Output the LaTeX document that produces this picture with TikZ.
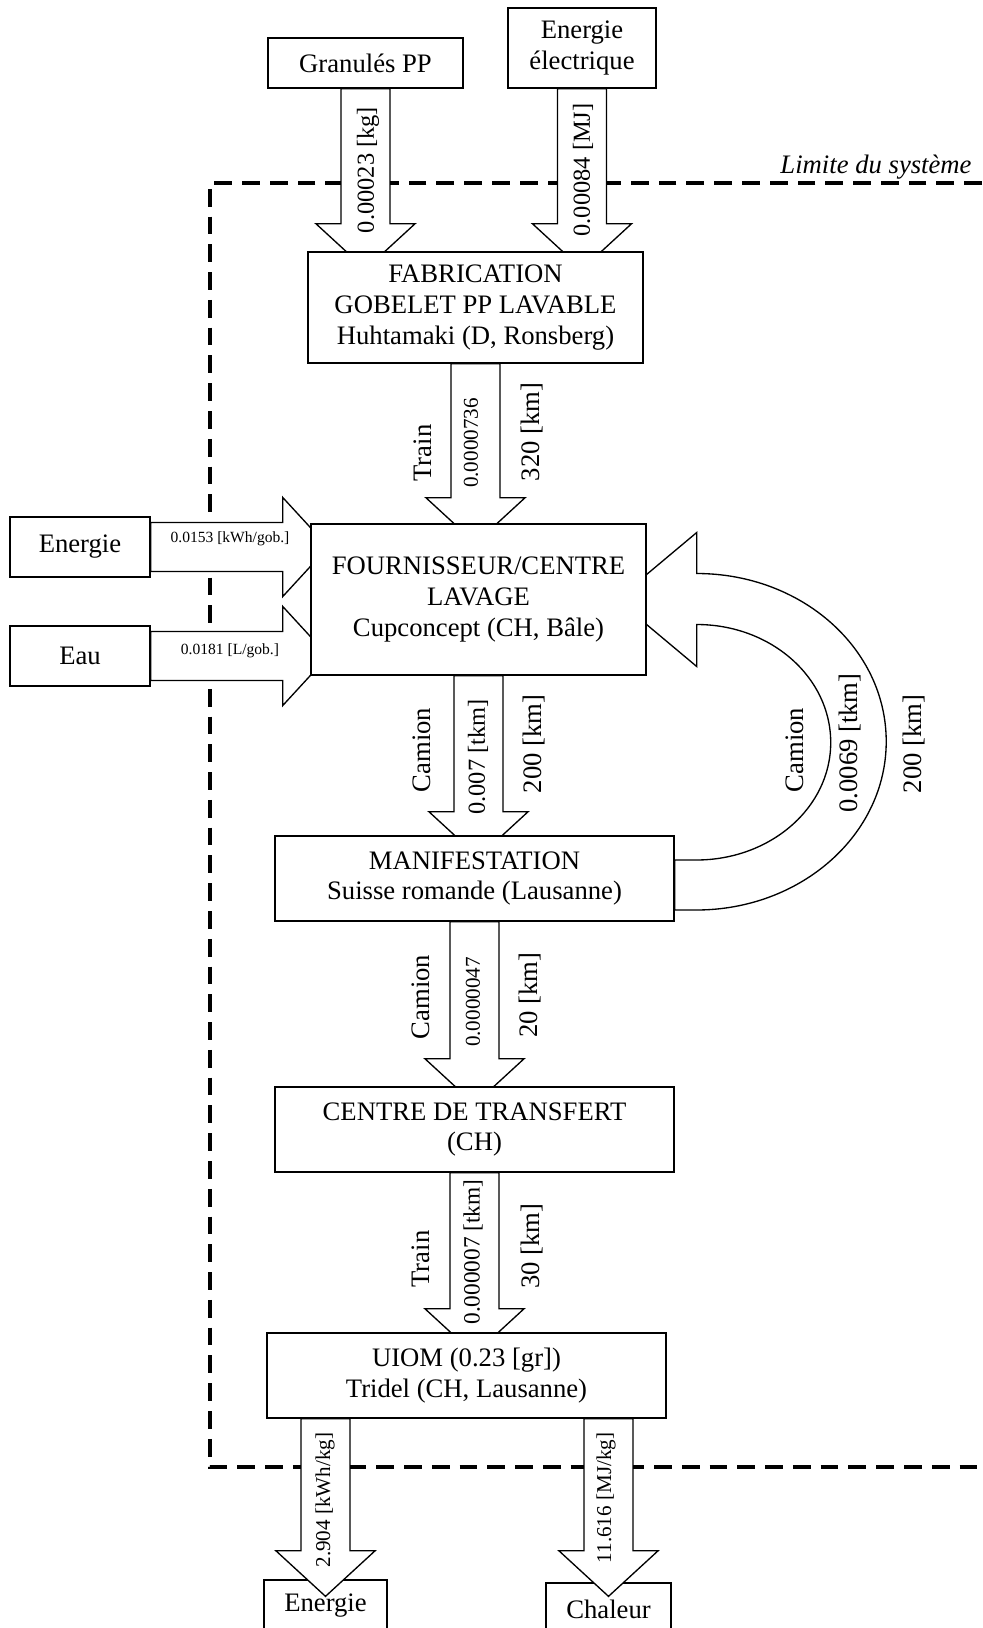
\documentclass[tikz,border=0pt]{standalone}
\usepackage{fontspec}
\setmainfont{Liberation Serif}
\usetikzlibrary{calc,backgrounds}

\tikzset{
  box/.style={draw, fill=white, line width=0.6pt, align=center, inner sep=0pt,
    font=\fontsize{12}{13.8}\selectfont},
  flow/.style={draw, fill=white, line width=0.6pt, line join=miter},
  vlabel/.style={rotate=90, inner sep=0pt, font=\fontsize{12}{13.8}\selectfont},
  hlabel/.style={inner sep=0pt, font=\fontsize{7}{8}\selectfont},
  limit/.style={line width=2pt, dash pattern=on 8pt off 4.5pt},
}

% wide arrow from #2 to its tip #3
\newcommand{\fatarrow}[3][]{%
  \path #2 coordinate (fa-s) #3 coordinate (fa-t);
  \path ($(fa-t)!20.5pt!(fa-s)$) coordinate (fa-h);
  \draw[flow,#1] ($(fa-s)!11pt!90:(fa-t)$) -- ($(fa-h)!11pt!90:(fa-t)$)
    -- ($(fa-h)!22.3pt!90:(fa-t)$) -- (fa-t) -- ($(fa-h)!22.3pt!-90:(fa-t)$)
    -- ($(fa-h)!11pt!-90:(fa-t)$) -- ($(fa-s)!11pt!-90:(fa-t)$) -- cycle;
}

\begin{document}
\begin{tikzpicture}[x=0.45pt, y=-0.45pt]
  \useasboundingbox (0,0) rectangle (982,1628);

  % process boxes
  \node[box, minimum width=87.8pt, minimum height=22.5pt] (gran) at (365.5,63) {Granulés PP};
  \node[box, minimum width=66.6pt, minimum height=36pt] (elec) at (582,48) {Energie\\électrique};
  \node[box, minimum width=150.8pt, minimum height=50pt] (fab) at (475.5,307.5)
    {FABRICATION\\GOBELET PP LAVABLE\\Huhtamaki (D, Ronsberg)};
  \node[box, minimum width=150.8pt, minimum height=68pt] (four) at (478.5,599.5)
    {FOURNISSEUR/CENTRE\\LAVAGE\\Cupconcept (CH, Bâle)};
  \node[box, minimum width=63pt, minimum height=27pt] (enin) at (80,547) {Energie};
  \node[box, minimum width=63pt, minimum height=27pt] (eau) at (80,656) {Eau};
  \node[box, minimum width=179.6pt, minimum height=38.3pt] (manif) at (474.5,878.5)
    {MANIFESTATION\\Suisse romande (Lausanne)};
  \node[box, minimum width=179.6pt, minimum height=38.3pt] (centre) at (474.5,1129.5)
    {CENTRE DE TRANSFERT\\(CH)};
  \node[box, minimum width=179.6pt, minimum height=38.3pt] (uiom) at (466.5,1375.5)
    {UIOM (0.23 [gr])\\Tridel (CH, Lausanne)};
  \node[box, minimum width=55.4pt, minimum height=23.4pt] (eout) at (325.5,1606) {Energie};
  \node[box, minimum width=56.3pt, minimum height=23.4pt] (chal) at (608.5,1609) {Chaleur};

  \begin{pgfonlayer}{background}
    % system boundary, hidden by the flows
    \draw[limit] (982,183) -| (210,1467) -- (982,1467);
    % flows going in under the boxes
    \fatarrow{(gran.south)}{($(gran.south |- fab.north)+(0,18)$)}
    \fatarrow{(elec.south)}{($(elec.south |- fab.north)+(0,18)$)}
    \fatarrow{(fab.south)}{($(fab.south |- four.north)+(0,20)$)}
    \fatarrow{(enin.east)}{($(four.west |- enin.east)+(18,0)$)}
    \fatarrow{(eau.east)}{($(four.west |- eau.east)+(18,0)$)}
    \fatarrow{(four.south)}{($(four.south |- manif.north)+(0,22)$)}
    \fatarrow{(manif.south)}{($(manif.south |- centre.north)+(0,18)$)}
    \fatarrow{(centre.south)}{($(centre.south |- uiom.north)+(0,22)$)}
    % return of the cups
    \draw[flow] ($(manif.east)+(0,31.5)$) -- ++(21.5,0)
      .. controls +(105,0) and +(0,93) .. ++(190,-168.5)
      .. controls +(0,-93) and +(105,0) .. ($(four.east)+(50,-26)$)
      -- ++(0,-41) -- ($(four.east)+(-30,0)$) -- ($(four.east)+(50,67)$) -- ++(0,-42)
      .. controls +(74,0) and +(0,-65.4) .. ++(134,118)
      .. controls +(0,65.4) and +(74,0) .. ($(manif.east)+(21.5,-18.5)$)
      -- ++(-21.5,0) -- cycle;
  \end{pgfonlayer}

  % outputs of the UIOM
  \fatarrow{(uiom.south -| eout.north)}{($(eout.north)+(0,17)$)}
  \fatarrow{(uiom.south -| chal.north)}{($(chal.north)+(0,14)$)}

  % flow labels
  \node[vlabel, font=\fontsize{11}{13}\selectfont] (q-gran) at (368,170) {0.00023 [kg]};
  \node[vlabel, font=\fontsize{11}{13}\selectfont] (q-elec) at (583,170) {0.00084 [MJ]};
  \node[vlabel] (m-fab) at (423,453) {Train};
  \node[vlabel, font=\fontsize{9.5}{11}\selectfont] (q-fab) at (471,443) {0.0000736};
  \node[vlabel] (d-fab) at (532,432) {320 [km]};
  \node[hlabel] (q-enin) at (230,539) {0.0153 [kWh/gob.]};
  \node[hlabel] (q-eau) at (230,651) {0.0181 [L/gob.]};
  \node[vlabel] (m-four) at (422,750) {Camion};
  \node[vlabel, font=\fontsize{11}{13}\selectfont] (q-four) at (478,757) {0.007 [tkm]};
  \node[vlabel] (d-four) at (534,744) {200 [km]};
  \node[vlabel] (m-loop) at (795,750) {Camion};
  \node[vlabel] (q-loop) at (850,743) {0.0069 [tkm]};
  \node[vlabel] (d-loop) at (914,744) {200 [km]};
  \node[vlabel] (m-manif) at (421,997) {Camion};
  \node[vlabel, font=\fontsize{9.5}{11}\selectfont] (q-manif) at (473,1002) {0.0000047};
  \node[vlabel] (d-manif) at (530,995) {20 [km]};
  \node[vlabel] (m-centre) at (421,1259) {Train};
  \node[vlabel, font=\fontsize{10.5}{12}\selectfont] (q-centre) at (473,1252) {0.000007 [tkm]};
  \node[vlabel] (d-centre) at (532,1246) {30 [km]};
  \node[vlabel, font=\fontsize{9.5}{11}\selectfont] (q-eout) at (325,1500) {2.904 [kWh/kg]};
  \node[vlabel, font=\fontsize{9.5}{11}\selectfont] (q-chal) at (606,1498) {11.616 [MJ/kg]};

  \node[anchor=base east, inner sep=0pt, font=\fontsize{12}{13.8}\itshape] (limtxt) at (972,173)
    {Limite du système};
\end{tikzpicture}
\end{document}
